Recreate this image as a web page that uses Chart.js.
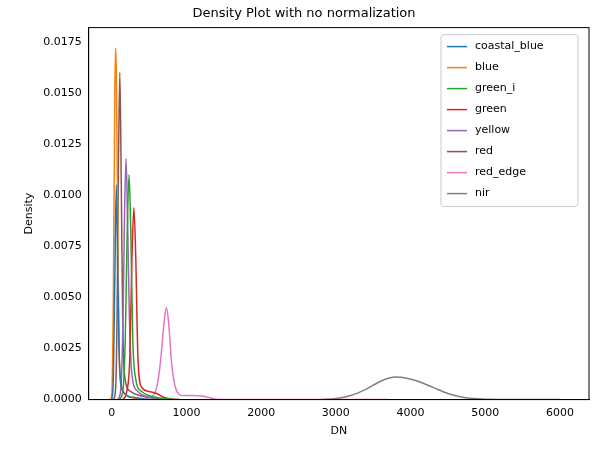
<!DOCTYPE html><html><head><script src="https://cdn.jsdelivr.net/npm/chart.js@4"></script>
<style>body{margin:0;background:#fff}#w{width:594px;height:453px}</style></head><body><div id="w"><canvas id="c"></canvas></div>
<script>
const seriesNames=["coastal_blue","blue","green_i","green","yellow","red","red_edge","nir"];
const colors=["#1f77b4","#ff7f0e","#2ca02c","#d62728","#9467bd","#8c564b","#e377c2","#7f7f7f"];
const xCoastal=[0,20,40,60,80,100,150,300,500];
const yCoastal=[0,0.001,0.006,0.0105,0.006,0.002,0.0004,0.0001,0];
const xBlue=[-20,0,20,40,50,60,80,100,130,200,400];
const yBlue=[0,0.0003,0.005,0.015,0.0172,0.016,0.008,0.002,0.0006,0.0002,0];
const xGreenI=[100,150,180,205,230,255,280,320,400,600,900];
const yGreenI=[0,0.0005,0.003,0.008,0.011,0.008,0.003,0.001,0.0004,0.0001,0];
const xGreen=[150,200,240,270,295,320,350,400,500,600,700,900];
const yGreen=[0,0.0004,0.002,0.007,0.0094,0.007,0.002,0.0006,0.0004,0.0003,0.0001,0];
const xYellow=[80,120,150,170,190,210,235,270,350,500,800];
const yYellow=[0,0.0005,0.004,0.009,0.0118,0.009,0.004,0.0012,0.0004,0.0001,0];
const xRed=[20,50,70,90,107,125,145,170,250,500,800];
const yRed=[0,0.0005,0.004,0.012,0.016,0.011,0.004,0.0012,0.0004,0.0001,0];
const xRedEdge=[300,500,600,650,700,730,760,800,860,950,1050,1200,1300,1400,2000,3700];
const yRedEdge=[0,0.0001,0.0006,0.0018,0.0038,0.0045,0.0038,0.0018,0.0005,0.0002,0.0002,0.00018,0.0001,0.00002,0,0];
const xNir=[2800,3000,3200,3400,3600,3800,3950,4100,4300,4500,4700,4900,5200,6000];
const yNir=[0,0.00005,0.0002,0.0005,0.0009,0.0011,0.00105,0.0009,0.0006,0.0003,0.00012,0.00004,0.00001,0];
const xs=[xCoastal,xBlue,xGreenI,xGreen,xYellow,xRed,xRedEdge,xNir];
const ys=[yCoastal,yBlue,yGreenI,yGreen,yYellow,yRed,yRedEdge,yNir];
const xTicks=[0,1000,2000,3000,4000,5000,6000];
const yTicks=[0,0.0025,0.005,0.0075,0.01,0.0125,0.015,0.0175];
Chart.defaults.font.family="DejaVu Sans";Chart.defaults.font.size=11;Chart.defaults.color="#000";
new Chart(document.getElementById('c'),{type:'line',
data:{datasets:seriesNames.map((n,i)=>({label:n,data:xs[i].map((x,j)=>({x,y:ys[i][j]})),borderColor:colors[i],backgroundColor:colors[i],borderWidth:1.5,pointRadius:0,tension:0.4,cubicInterpolationMode:'monotone'}))},
options:{animation:false,responsive:true,maintainAspectRatio:false,
layout:{padding:{left:19,right:5,top:6,bottom:11}},
plugins:{title:{display:true,text:'Density Plot with no normalization',font:{size:13,weight:'normal'},padding:{top:0,bottom:6}},
legend:{display:false},tooltip:{enabled:false}},
scales:{x:{type:'linear',min:-310,max:6390,afterBuildTicks:a=>{a.ticks=xTicks.map(v=>({value:v}))},ticks:{callback:v=>String(v)},grid:{display:false,tickLength:4,tickColor:'#000'},border:{color:'#000'},title:{display:true,text:'DN',padding:{top:2}}},
y:{min:0,max:0.0182,afterBuildTicks:a=>{a.ticks=yTicks.map(v=>({value:v}))},ticks:{callback:v=>v.toFixed(4)},grid:{display:false,tickLength:4,tickColor:'#000'},border:{color:'#000'},title:{display:true,text:'Density'}}}},
plugins:[{id:'frame',afterDraw(c){const a=c.chartArea,g=c.ctx;g.save();g.strokeStyle='#000';g.lineWidth=1;g.strokeRect(a.left,a.top,a.right-a.left,a.bottom-a.top);
const lx=a.right-148,ly=a.top+7,w=137,h=seriesNames.length*21+4;g.fillStyle='rgba(255,255,255,0.8)';g.strokeStyle='#ccc';g.beginPath();g.roundRect(lx,ly,w,h,3);g.fill();g.stroke();
g.font='11px DejaVu Sans';g.textBaseline='middle';seriesNames.forEach((n,i)=>{const y=ly+12+i*21;g.strokeStyle=colors[i];g.lineWidth=1.5;g.beginPath();g.moveTo(lx+6,y);g.lineTo(lx+26,y);g.stroke();g.fillStyle='#000';g.fillText(n,lx+34,y);});g.restore();}}]});
</script></body></html>
